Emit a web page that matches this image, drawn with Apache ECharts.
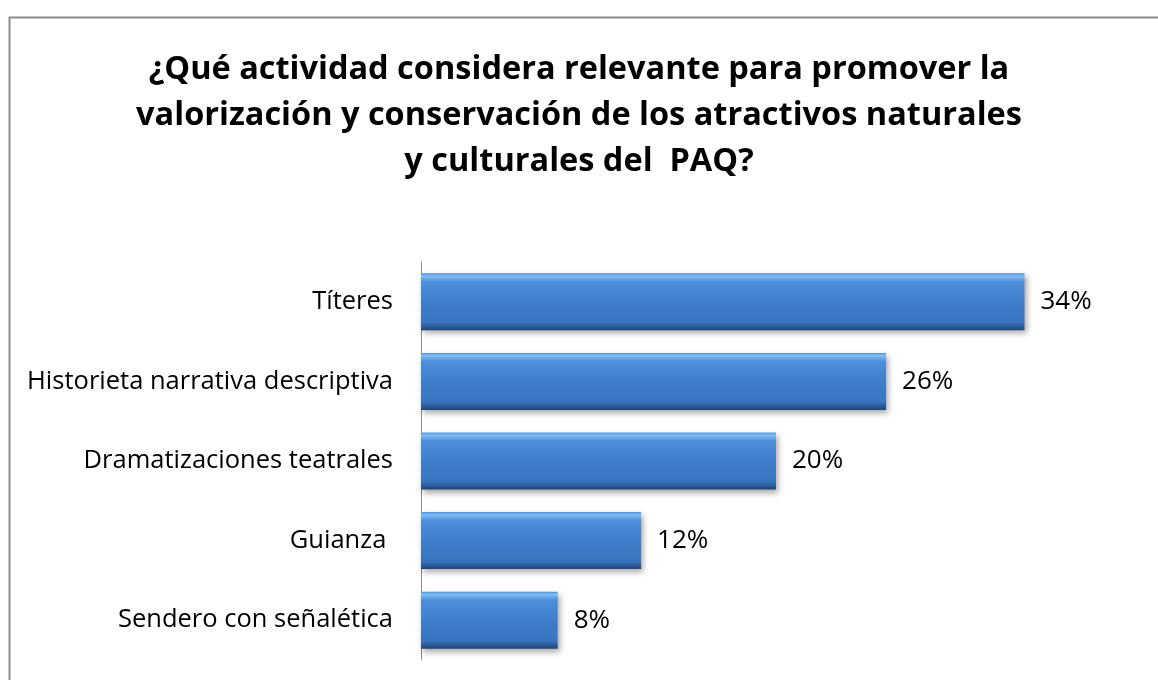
<!DOCTYPE html>
<html>
<head>
<meta charset="utf-8">
<script src="https://cdn.jsdelivr.net/npm/echarts@6/dist/echarts.min.js"></script>
<style>
html,body{margin:0;padding:0;background:#fff;}
#chart{width:1158px;height:680px;}
</style>
</head>
<body>
<div id="chart"></div>
<script>
const titleText = "¿Qué actividad considera relevante para promover la\nvalorización y conservación de los atractivos naturales\ny culturales del  PAQ?";
const categories = ["Títeres", "Historieta narrativa descriptiva", "Dramatizaciones teatrales", "Guianza ", "Sendero con señalética"];
const values = [34.0, 26.2, 20.0, 12.4, 7.7];

const chart = echarts.init(document.getElementById('chart'), null, {renderer: 'canvas'});
const option = {
  backgroundColor: '#ffffff',
  animation: false,
  title: {
    text: titleText,
    left: 'center',
    top: 42,
    textStyle: {
      fontFamily: 'Open Sans',
      fontWeight: 'bold',
      fontSize: 32.5,
      lineHeight: 46,
      color: '#000000'
    }
  },
  graphic: [{
    type: 'rect',
    left: 7,
    top: 15,
    shape: {width: 1200, height: 700},
    style: {fill: 'none', stroke: '#8c8c8c', lineWidth: 2},
    silent: true,
    z: -1
  }],
  grid: {left: 421, top: 262, right: 27, bottom: 20, containLabel: false},
  xAxis: {
    type: 'value',
    min: 0,
    max: 40,
    show: false
  },
  yAxis: {
    type: 'category',
    data: categories,
    inverse: true,
    axisLine: {show: true, lineStyle: {color: '#8c8c8c', width: 1}},
    axisTick: {show: false},
    axisLabel: {
      margin: 28,
      color: '#000000',
      fontFamily: 'Open Sans',
      fontSize: 25.5
    }
  },
  series: [{
    type: 'bar',
    data: values,
    barWidth: 57,
    itemStyle: {
      color: new echarts.graphic.LinearGradient(0, 0, 0, 1, [
        {offset: 0, color: '#5493dc'},
        {offset: 0.05, color: '#80bcf4'},
        {offset: 0.15, color: '#4e8edb'},
        {offset: 0.5, color: '#3f7ecb'},
        {offset: 0.86, color: '#3a74bf'},
        {offset: 0.93, color: '#2c5d9c'},
        {offset: 1, color: '#1f4678'}
      ]),
      shadowColor: 'rgba(0,0,0,0.35)',
      shadowBlur: 6,
      shadowOffsetX: 2,
      shadowOffsetY: 3
    },
    label: {
      show: true,
      position: 'right',
      distance: 16,
      color: '#000000',
      fontFamily: 'Open Sans',
      fontSize: 26,
      formatter: p => Math.round(p.value) + '%'
    }
  }]
};
chart.setOption(option);
</script>
</body>
</html>
